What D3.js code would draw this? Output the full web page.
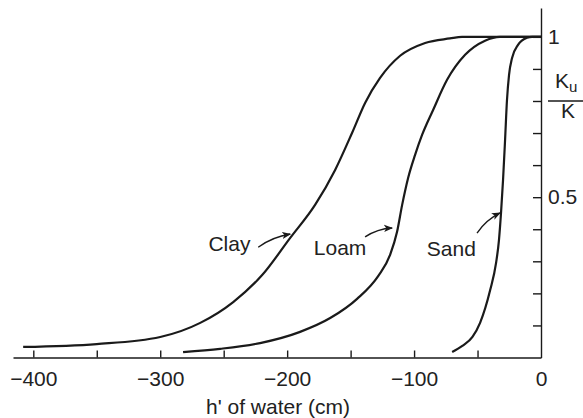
<!DOCTYPE html>
<html>
<head>
<meta charset="utf-8">
<style>
  body { margin: 0; background: #fff; }
  svg text { font-family: "Liberation Sans", Arial, Helvetica, sans-serif; fill: #222; }
</style>
</head>
<body>
<div id="chart"></div>
<script src="https://d3js.org/d3.v7.min.js"></script>
<script>
// relative conductivity Ku/K against pressure head h' (cm)
var clayH = [-408, -350, -300, -268.5, -242.5, -219.7, -197.6, -178, -162.2, -148.8, -138.6, -126.8, -111, -91.3, -71.7, -62.2, 0];
var clayK = [0.033, 0.042, 0.064, 0.108, 0.173, 0.257, 0.373, 0.476, 0.585, 0.701, 0.794, 0.872, 0.941, 0.981, 0.995, 1, 1];

var loamH = [-282, -252.8, -221.3, -189.8, -166.1, -144.9, -128.3, -118.9, -113.4, -109.4, -104.7, -99.2, -93.7, -85, -74, -59.8, -44.1, -32.3, 0];
var loamK = [0.017, 0.027, 0.045, 0.08, 0.123, 0.183, 0.254, 0.32, 0.392, 0.476, 0.56, 0.632, 0.694, 0.772, 0.866, 0.944, 0.988, 1, 1];

var sandH = [-70, -62, -54, -48, -40, -35.4, -33.1, -31.5, -29.9, -28.3, -26.8, -25.2, -22.8, -18.1, -11, -7, 0];
var sandK = [0.017, 0.036, 0.064, 0.108, 0.211, 0.295, 0.367, 0.451, 0.554, 0.679, 0.803, 0.881, 0.934, 0.975, 0.997, 1, 1];

// labels with their arrows: text position, arrow start, arrow tip
var soilNames = ["Clay", "Loam", "Sand"];
var labelH = [-262, -179, -90];
var labelK = [0.333, 0.32, 0.317];
var arrowFromH = [-222.8, -138.6, -50.4];
var arrowFromK = [0.344, 0.376, 0.388];
var arrowToH = [-197.6, -117.3, -32.3];
var arrowToK = [0.385, 0.404, 0.451];

var xTicks = d3.range(-400, 1, 50);
var xLabelled = [-400, -300, -200, -100, 0];
var yTicks = d3.range(1, 11).map(function(i) { return i / 10; });
var yLabels = { "1": "1", "0.5": "0.5" };

var width = 583, height = 418;

var svg = d3.select("#chart").append("svg")
    .attr("width", width)
    .attr("height", height);

var x = d3.scaleLinear().domain([-416, 0]).range([13, 541]);
var y = d3.scaleLinear().domain([0, 1.09]).range([357.5, 8]);

var ink = "#1a1a1a";
var fontSize = 21;

// bottom axis, ticks pointing up
var xAxis = svg.append("g")
    .attr("transform", "translate(0," + y(0) + ")")
    .call(d3.axisBottom(x)
        .tickValues(xTicks)
        .tickSizeInner(-7)
        .tickSizeOuter(0)
        .tickPadding(14)
        .tickFormat(function(d) { return xLabelled.indexOf(d) >= 0 ? d3.format("d")(d) : ""; }));

// right axis, ticks pointing left
var yAxis = svg.append("g")
    .attr("transform", "translate(" + x(0) + ",0)")
    .call(d3.axisRight(y)
        .tickValues(yTicks)
        .tickSizeInner(-8)
        .tickSizeOuter(0)
        .tickPadding(7)
        .tickFormat(function(d) { return yLabels[String(d)] || ""; }));

svg.selectAll(".domain, .tick line")
    .attr("stroke", ink)
    .attr("stroke-width", 1.4);
svg.selectAll(".tick text")
    .attr("font-size", fontSize)
    .attr("fill", "#222")
    .style("font-family", "'Liberation Sans', Arial, sans-serif");
// the axis at 0 hides the label tick line behind the corner
xAxis.selectAll(".tick").filter(function(d) { return d === 0; }).select("line").remove();

// axis title
svg.append("text")
    .attr("x", 278)
    .attr("y", 414)
    .attr("text-anchor", "middle")
    .attr("font-size", fontSize)
    .text("h' of water (cm)");

// Ku / K fraction
var frac = svg.append("g");
var num = frac.append("text")
    .attr("x", 555)
    .attr("y", 88)
    .attr("font-size", fontSize);
num.append("tspan").text("K");
num.append("tspan").attr("font-size", 15).attr("dy", 4).text("u");
frac.append("line")
    .attr("x1", 548).attr("x2", 583)
    .attr("y1", 101).attr("y2", 101)
    .attr("stroke", ink)
    .attr("stroke-width", 1.3);
frac.append("text")
    .attr("x", 568)
    .attr("y", 118)
    .attr("text-anchor", "middle")
    .attr("font-size", fontSize)
    .text("K");

// curves
var line = d3.line()
    .x(function(d) { return x(d[0]); })
    .y(function(d) { return y(d[1]); })
    .curve(d3.curveMonotoneX);

var series = [
    d3.zip(clayH, clayK),
    d3.zip(loamH, loamK),
    d3.zip(sandH, sandK)
];

svg.append("g").selectAll("path")
    .data(series)
    .enter().append("path")
    .attr("d", line)
    .attr("fill", "none")
    .attr("stroke", ink)
    .attr("stroke-width", 2.2)
    .attr("stroke-linejoin", "round");

// arrow heads
svg.append("defs").append("marker")
    .attr("id", "head")
    .attr("viewBox", "0 0 10 10")
    .attr("refX", 9)
    .attr("refY", 5)
    .attr("markerWidth", 9)
    .attr("markerHeight", 9)
    .attr("markerUnits", "userSpaceOnUse")
    .attr("orient", "auto")
    .append("path")
    .attr("d", "M0,1 L10,5 L0,9 L2.5,5 Z")
    .attr("fill", ink);

var notes = svg.append("g");
soilNames.forEach(function(name, i) {
    notes.append("text")
        .attr("x", x(labelH[i]))
        .attr("y", y(labelK[i]))
        .attr("font-size", fontSize)
        .text(name);

    var x0 = x(arrowFromH[i]), y0 = y(arrowFromK[i]);
    var x1 = x(arrowToH[i]), y1 = y(arrowToK[i]);
    // slight bow upward, like a hand drawn pointer
    var mx = (x0 + x1) / 2, my = (y0 + y1) / 2;
    var dx = x1 - x0, dy = y1 - y0, len = Math.sqrt(dx * dx + dy * dy);
    var cx = mx + dy / len * 4, cy = my - dx / len * 4;
    notes.append("path")
        .attr("d", "M" + x0 + "," + y0 + " Q" + cx + "," + cy + " " + x1 + "," + y1)
        .attr("fill", "none")
        .attr("stroke", ink)
        .attr("stroke-width", 1.4)
        .attr("marker-end", "url(#head)");
});
</script>
</body>
</html>
